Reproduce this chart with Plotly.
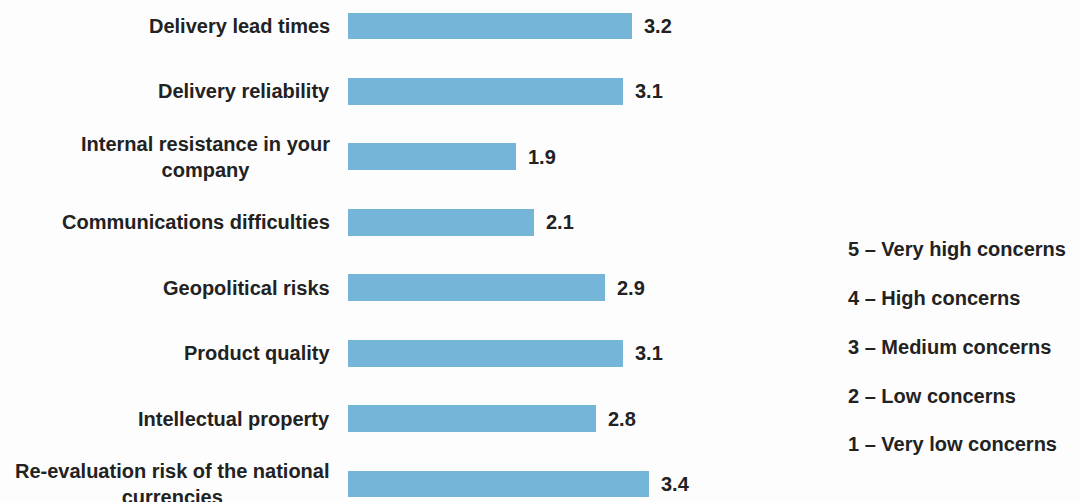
import plotly.graph_objects as go

# Concern factors (top to bottom) and their average rating
categories = [
    "Delivery lead times",
    "Delivery reliability",
    "Internal resistance in your<br>company",
    "Communications difficulties",
    "Geopolitical risks",
    "Product quality",
    "Intellectual property",
    "Re-evaluation risk of the national<br>currencies",
]
scores = [3.2, 3.1, 1.9, 2.1, 2.9, 3.1, 2.8, 3.4]

# Rating scale key
scale_labels = [
    "5 – Very high concerns",
    "4 – High concerns",
    "3 – Medium concerns",
    "2 – Low concerns",
    "1 – Very low concerns",
]

BAR_COLOR = "#74b5d8"
TEXT_COLOR = "#222222"
FONT = "Liberation Sans, Arial, sans-serif"
FONT_SIZE = 20

positions = list(range(len(categories)))

fig = go.Figure(
    go.Bar(
        x=scores,
        y=positions,
        orientation="h",
        width=0.41,
        marker=dict(color=BAR_COLOR, line=dict(width=0)),
        hoverinfo="skip",
    )
)

annotations = []
# Category labels to the left of the bars
for pos, name in zip(positions, categories):
    annotations.append(dict(
        x=0, xref="paper", y=pos, yref="y",
        text=f"<b>{name}</b>", showarrow=False,
        xanchor="right", yanchor="middle", align="center",
        xshift=-16,
        font=dict(family=FONT, size=FONT_SIZE, color=TEXT_COLOR),
    ))
# Value labels at the end of each bar
for pos, val in zip(positions, scores):
    annotations.append(dict(
        x=val, xref="x", y=pos, yref="y",
        text=f"<b>{val:.1f}</b>", showarrow=False,
        xanchor="left", yanchor="middle", xshift=10,
        font=dict(family=FONT, size=FONT_SIZE, color=TEXT_COLOR),
    ))
# Scale key on the right, just past the plot area
key_y = [249, 298, 347, 396, 444]
for py, label in zip(key_y, scale_labels):
    annotations.append(dict(
        x=1.0, xref="paper", y=1 - py / 502, yref="paper",
        text=f"<b>{label}</b>", showarrow=False,
        xanchor="left", yanchor="middle", xshift=-2,
        font=dict(family=FONT, size=FONT_SIZE, color=TEXT_COLOR),
    ))

fig.update_layout(
    width=1080, height=502,
    margin=dict(l=348, r=232, t=0, b=0),
    paper_bgcolor="#fdfdfd", plot_bgcolor="#fdfdfd",
    showlegend=False,
    bargap=0,
    xaxis=dict(range=[0, 5.64], visible=False, fixedrange=True),
    yaxis=dict(range=[7.275, -0.397], visible=False, fixedrange=True),
    annotations=annotations,
)

fig.write_html("out.html")
